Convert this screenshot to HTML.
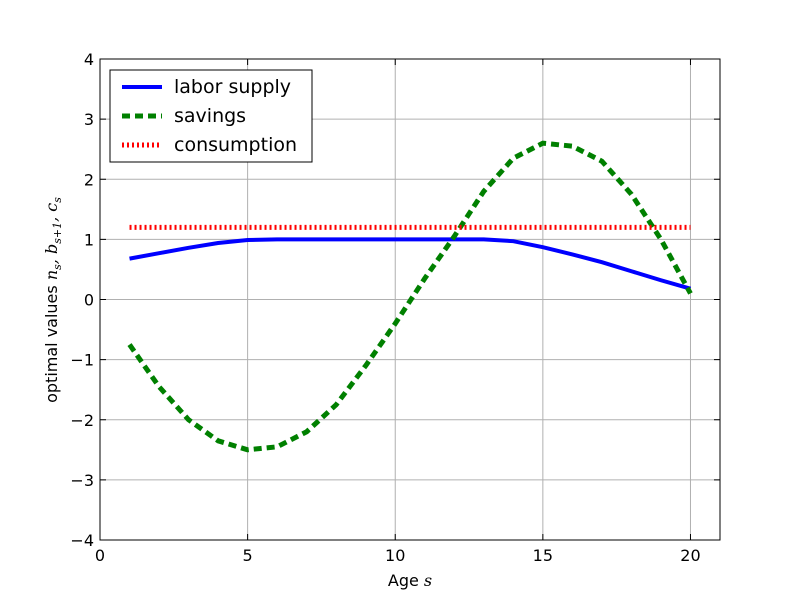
<!DOCTYPE html>
<html><head><meta charset="utf-8"><style>
body{margin:0;background:#fff}
svg{font-family:"DejaVu Sans","Liberation Sans",sans-serif}
</style></head><body>
<svg id="chart" width="800" height="600" xmlns="http://www.w3.org/2000/svg">
<rect width="800" height="600" fill="#fff"/>
<g id="grid"></g>
<g id="series"></g>
<rect x="100" y="59" width="620" height="481" fill="none" stroke="#000" stroke-width="1"/>
<g id="ticks"></g>
<text x="410" y="586" font-size="16" text-anchor="middle">Age <tspan font-style="italic" font-family="DejaVu Serif,serif">s</tspan></text>
<text transform="translate(57,300) rotate(-90)" font-size="16" text-anchor="middle">optimal values <tspan font-style="italic" font-family="DejaVu Serif,serif">n<tspan font-size="11" dy="4">s</tspan><tspan dy="-4">, b</tspan><tspan font-size="11" dy="4">s+1</tspan><tspan dy="-4">, c</tspan><tspan font-size="11" dy="4">s</tspan></tspan></text>
<g>
<rect x="110" y="70" width="202" height="92" fill="#fff" stroke="#000" stroke-width="1"/>
<line x1="122" y1="87" x2="162" y2="87" stroke="#0000ff" stroke-width="4"/>
<text x="174" y="93" font-size="19">labor supply</text>
<line x1="122" y1="116" x2="162" y2="116" stroke="#008000" stroke-width="5" stroke-dasharray="8,5"/>
<text x="174" y="122" font-size="19">savings</text>
<line x1="122" y1="145" x2="162" y2="145" stroke="#ff0000" stroke-width="5" stroke-dasharray="2,3"/>
<text x="174" y="151" font-size="19">consumption</text>
</g>
</svg>
<script>
const ages=[1,2,3,4,5,6,7,8,9,10,11,12,13,14,15,16,17,18,19,20];
const labor=[0.68,0.77,0.86,0.94,0.99,1,1,1,1,1,1,1,1,0.97,0.87,0.75,0.62,0.47,0.32,0.18];
const savings=[-0.75,-1.45,-2.0,-2.35,-2.5,-2.45,-2.2,-1.75,-1.1,-0.4,0.35,1.05,1.8,2.35,2.6,2.55,2.3,1.75,1.0,0.1];
const consumption=[1.2,1.2,1.2,1.2,1.2,1.2,1.2,1.2,1.2,1.2,1.2,1.2,1.2,1.2,1.2,1.2,1.2,1.2,1.2,1.2];
const xTicks=[0,5,10,15,20];
const yTicks=[-4,-3,-2,-1,0,1,2,3,4];
const NS="http://www.w3.org/2000/svg";
const X=v=>100+v*(620/21);
const Y=v=>299.5-v*(481/8);
function mk(t,a,p){const e=document.createElementNS(NS,t);for(const k in a)e.setAttribute(k,a[k]);p.appendChild(e);return e;}
const grid=document.getElementById('grid'),ticks=document.getElementById('ticks'),ser=document.getElementById('series');
xTicks.forEach(v=>{
 const g=mk('line',{x1:X(v),x2:X(v),y1:59,y2:540,stroke:'#b0b0b0','stroke-width':1},grid);
 
 
 const t=mk('text',{x:X(v),y:561,'font-size':16,'text-anchor':'middle'},ticks);t.textContent=v;
 
 
 mk('line',{x1:X(v),x2:X(v),y1:540,y2:534,stroke:'#000'},ticks);
 mk('line',{x1:X(v),x2:X(v),y1:59,y2:65,stroke:'#000'},ticks);
});
yTicks.forEach(v=>{
 const g=mk('line',{x1:100,x2:720,y1:Y(v),y2:Y(v),stroke:'#b0b0b0','stroke-width':1},grid);
 
 
 const t=mk('text',{x:94,y:Y(v)+6,'font-size':16,'text-anchor':'end'},ticks);t.textContent=(v<0?'\u2212'+(-v):v);
 
 
 mk('line',{x1:100,x2:106,y1:Y(v),y2:Y(v),stroke:'#000'},ticks);
 mk('line',{x1:714,x2:720,y1:Y(v),y2:Y(v),stroke:'#000'},ticks);
});
function line(arr,color,w,dash,name){
 const d=arr.map((v,i)=>(i?'L':'M')+X(ages[i])+','+Y(v)).join(' ');
 const p=mk('path',{d:d,fill:'none',stroke:color,'stroke-width':w},ser);
 if(dash)p.setAttribute('stroke-dasharray',dash);
 
 
}
line(labor,'#0000ff',4,null,'labor-supply-line');
line(savings,'#008000',5,'8,5','savings-line');
line(consumption,'#ff0000',5,'2,3','consumption-line');
</script>
</body></html>
